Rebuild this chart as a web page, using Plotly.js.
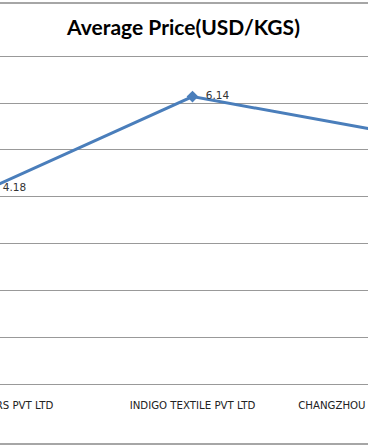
<!DOCTYPE html>
<html><head><meta charset="utf-8">
<script src="https://cdn.plot.ly/plotly-3.0.1.min.js"></script>
<style>
html,body{margin:0;padding:0;width:368px;height:445px;overflow:hidden;background:#fff;}
#wrap{position:absolute;left:-172.5px;top:2px;width:699px;height:439px;border-top:2px solid #a6a6a6;border-bottom:2px solid #a6a6a6;}
#chart{width:699px;height:439px;}
</style></head>
<body>
<div id="wrap"><div id="chart"></div></div>
<script>
var buyers = ["SUNRISE FIBERS PVT LTD", "INDIGO TEXTILE PVT LTD", "CHANGZHOU XINGDA TEXTILE CO LTD"];
var avgPrice = [4.18, 6.14, 5.35];
var priceLabels = ["4.18", "6.14", "5.35"];
var yTicks = [0, 1, 2, 3, 4, 5, 6, 7];

var trace = {
  x: buyers, y: avgPrice, type: 'scatter', mode: 'lines+markers+text',
  text: priceLabels, texttemplate: '  %{text}', textposition: 'middle right',
  textfont: {family: 'DejaVu Sans, sans-serif', size: 10.5, color: '#333'},
  line: {color: '#4a7ebb', width: 3},
  marker: {symbol: 'diamond', size: 9, color: '#4a7ebb'},
  cliponaxis: false, hoverinfo: 'none'
};
var layout = {
  width: 699, height: 439,
  margin: {l: 60, r: 30, t: 49.66, b: 59},
  paper_bgcolor: '#fff', plot_bgcolor: '#fff',
  showlegend: false,
  title: {text: '<b>Average Price(USD/KGS)</b>', font: {family: 'Lato, sans-serif', size: 21, color: '#000'},
          xref: 'container', x: 355.5/699, xanchor: 'center', yref: 'container', y: 1 - 24/439, yanchor: 'middle'},
  xaxis: {type: 'category', range: [-0.5, 2.5], showgrid: false, zeroline: false, showline: false,
          ticks: '', ticklabelstandoff: 14,
          tickfont: {family: 'DejaVu Sans, sans-serif', size: 10.2, color: '#222'}},
  yaxis: {range: [0, 7.05], tickvals: yTicks, showgrid: true, gridcolor: '#999', gridwidth: 1,
          zeroline: true, zerolinecolor: '#999', zerolinewidth: 1, showline: false,
          tickfont: {family: 'DejaVu Sans, sans-serif', size: 9, color: '#222'}}
};
Plotly.newPlot('chart', [trace], layout, {staticPlot: true});
</script>
</body></html>
